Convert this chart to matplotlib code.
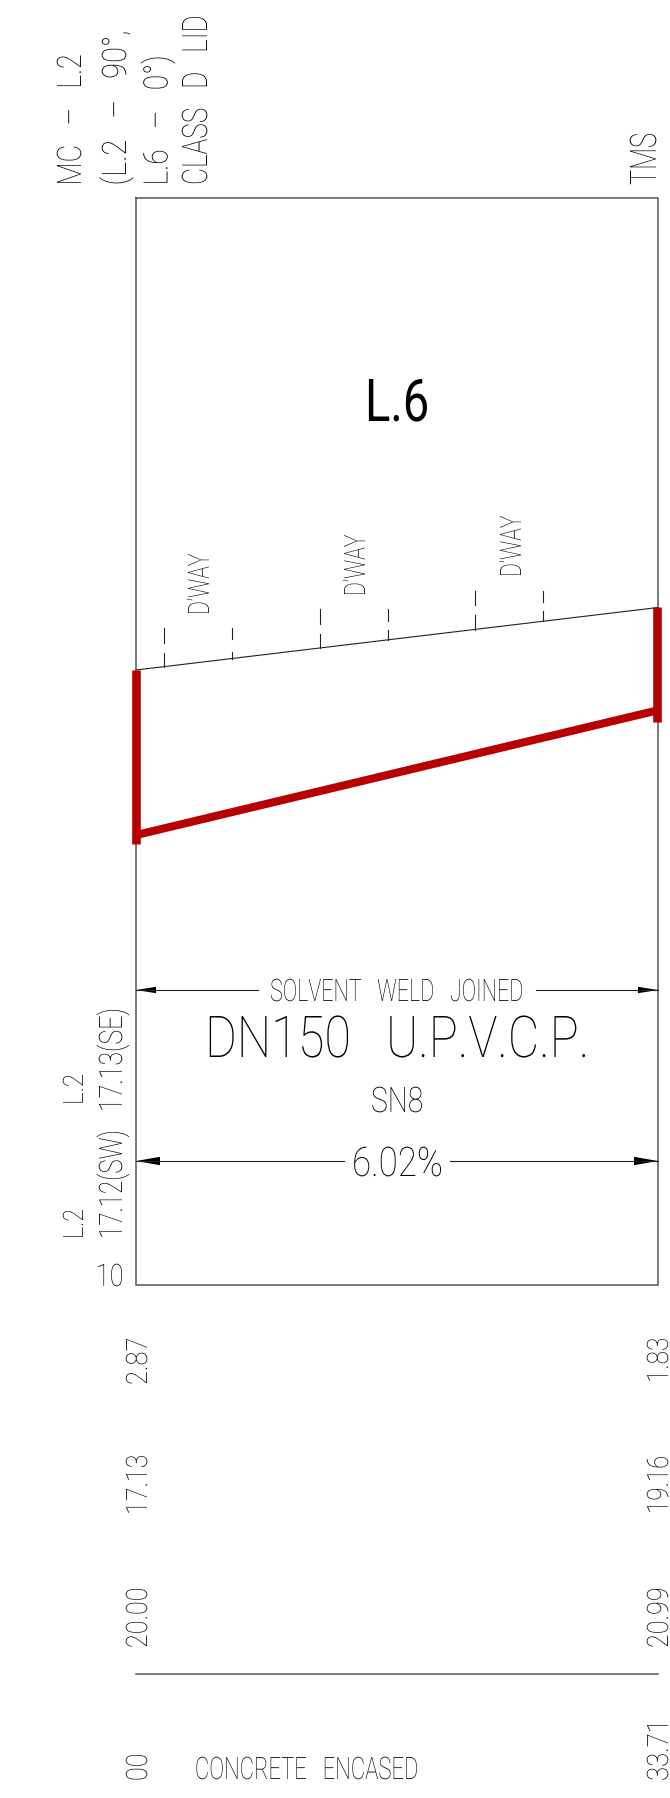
import matplotlib
matplotlib.use("Agg")
import matplotlib.pyplot as plt
from matplotlib.font_manager import FontProperties
from matplotlib.patheffects import AbstractPathEffect
from matplotlib.textpath import TextPath
from matplotlib.transforms import Affine2D

# drawing units are the pixels of the sheet, y running downwards
box_x = [136, 658, 658, 136, 136]
box_y = [198, 198, 1285, 1285, 198]
base_x = [136, 658]
base_y = [1674, 1674]

ground_x = [136, 658]
ground_y = [670, 607.5]

pipe_x = [136.3, 657]
pipe_y = [835, 710.5]
left_wall_x = [136.3, 136.3]
left_wall_y = [670, 844]
right_wall_x = [657, 657]
right_wall_y = [607, 722]

# driveway ticks: x, then upper dash and lower dash
tick_x = [164.3, 232.3, 320, 387.7, 475, 543]
tick_top = [[628, 643], [628, 639], [609, 624], [609, 621], [591, 605], [591, 602]]
tick_low = [[653, 667], [652, 659], [634, 648], [630, 640], [615, 630], [611, 621]]

# dimension lines: y, left end of the gap, right end of the gap, head length, head half height
dim_y = [990, 1161]
dim_gap_a = [258, 344]
dim_gap_b = [536, 450]
dim_head = [20, 24]
dim_half = [3.2, 4.2]

# horizontal text: string, left x, baseline y, length, cap height
h_text = ["L.6", "SOLVENT   WELD   JOINED", "DN150   U.P.V.C.P.", "SN8", "6.02%", "10", "CONCRETE   ENCASED"]
h_x = [365, 270, 205, 371, 352, 96, 195]
h_y = [421, 1001, 1057, 1112, 1176, 1286, 1779]
h_len = [62, 252, 380, 51, 89, 26, 222]
h_cap = [42, 22, 41, 25, 29, 22, 22]
h_weight = ["regular", "light", "light", "light", "light", "light", "light"]

# rotated text: string, baseline x, lower end y, length, cap height
v_text = ["MC   –   L.2", "(L.2   –   90°,", "L.6   –   0°)", "CLASS   D   LID", "TMS",
          "D’WAY", "D’WAY", "D’WAY",
          "L.2", "L.2", "17.13(SE)", "17.12(SW)",
          "2.87", "17.13", "20.00", "00",
          "1.83", "19.16", "20.99", "33.71"]
v_x = [81, 126, 167.5, 207, 656,
       209, 365, 521,
       83, 83, 122, 122,
       147, 147, 147, 147,
       668, 668, 668, 668]
v_y = [185.5, 185.5, 185.5, 185, 185,
       615, 596, 577,
       1105, 1239, 1112, 1239,
       1385, 1515, 1648, 1781,
       1383, 1514, 1648, 1781]
v_len = [130, 153, 128, 168, 51,
         61, 61, 61,
         30, 29, 102, 107,
         46, 59, 59, 26,
         44, 57, 59, 56]
v_cap = [24, 24, 24, 25, 26,
         21, 21, 21,
         20, 20, 23, 23,
         21, 21, 21, 21,
         21, 21, 21, 21]

line_col = "#555555"
thin_col = "#222222"
text_col = "#000000"
red = "#b80000"


class Squeeze(AbstractPathEffect):
    # the CAD lettering is much narrower than any installed font
    def __init__(self, sx):
        super().__init__()
        self.sx = sx

    def draw_path(self, renderer, gc, tpath, affine, rgbFace=None):
        renderer.draw_path(gc, tpath, Affine2D().scale(self.sx, 1) + affine, rgbFace)


def put_text(ax, s, x, y, length, cap, rotation=0, weight="light"):
    size_px = cap / 0.711
    prop = FontProperties(family="Roboto", weight=weight, size=size_px * 0.72)
    width = TextPath((0, 0), s, size=size_px, prop=prop).get_extents().x1
    t = ax.text(x, y, s, fontproperties=prop, color=text_col, rotation=rotation,
                rotation_mode="anchor", ha="left", va="baseline")
    t.set_path_effects([Squeeze(length / width)])


fig = plt.figure(figsize=(6.7, 17.98), dpi=100)
ax = fig.add_axes([0, 0, 1, 1])
ax.set_xlim(0, 670)
ax.set_ylim(1798, 0)
ax.axis("off")

ax.plot(box_x, box_y, color=line_col, lw=1.1, solid_joinstyle="miter")
ax.plot(base_x, base_y, color=line_col, lw=1.1)
ax.plot(ground_x, ground_y, color=thin_col, lw=0.8)

for x, top, low in zip(tick_x, tick_top, tick_low):
    ax.plot([x, x], top, color=thin_col, lw=0.8)
    ax.plot([x, x], low, color=thin_col, lw=0.8)

ax.plot(pipe_x, pipe_y, color=red, lw=5.8, solid_capstyle="butt")
ax.plot(left_wall_x, left_wall_y, color=red, lw=6.2, solid_capstyle="butt")
ax.plot(right_wall_x, right_wall_y, color=red, lw=6.2, solid_capstyle="butt")

for y, a, b, head, half in zip(dim_y, dim_gap_a, dim_gap_b, dim_head, dim_half):
    ax.plot([box_x[0], a], [y, y], color=thin_col, lw=0.8)
    ax.plot([b, box_x[1]], [y, y], color=thin_col, lw=0.8)
    ax.fill([box_x[0], box_x[0] + head, box_x[0] + head], [y, y - half, y + half], color="black", lw=0)
    ax.fill([box_x[1], box_x[1] - head, box_x[1] - head], [y, y - half, y + half], color="black", lw=0)

for s, x, y, length, cap, weight in zip(h_text, h_x, h_y, h_len, h_cap, h_weight):
    put_text(ax, s, x, y, length, cap, weight=weight)

for s, x, y, length, cap in zip(v_text, v_x, v_y, v_len, v_cap):
    put_text(ax, s, x, y, length, cap, rotation=90)

fig.savefig("out.png", dpi=100)
